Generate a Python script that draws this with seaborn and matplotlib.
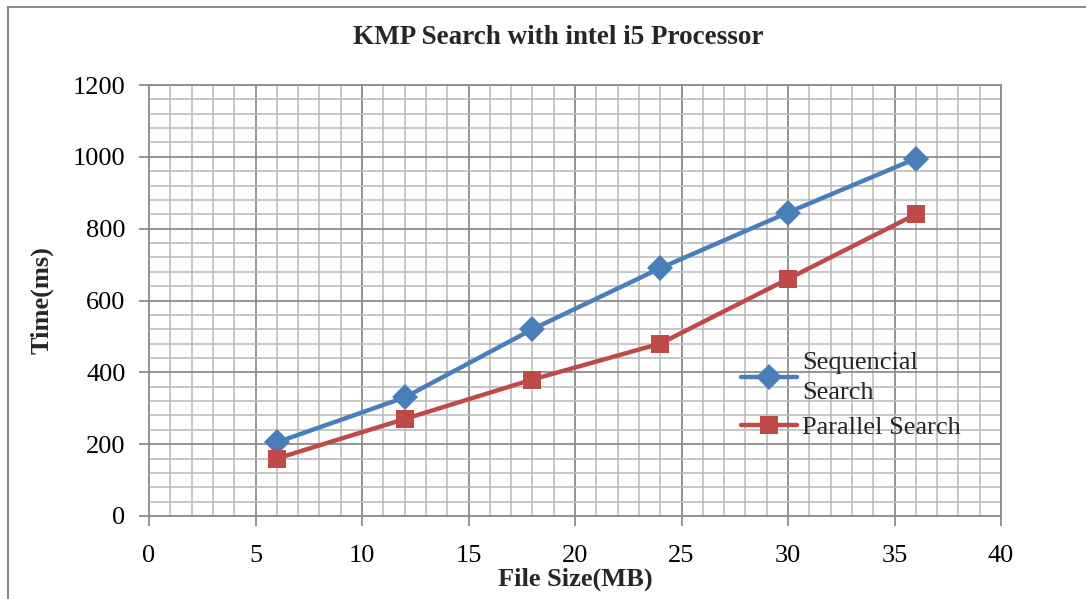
import matplotlib
matplotlib.use("Agg")
import matplotlib.pyplot as plt
import seaborn as sns
import pandas as pd
from matplotlib.ticker import MultipleLocator
from matplotlib.patches import Rectangle

file_size = [6, 12, 18, 24, 30, 36]
sequential = [205, 330, 520, 690, 845, 995]
parallel = [160, 270, 380, 480, 660, 840]
series_names = ["Sequencial\nSearch", "Parallel Search"]
title = "KMP Search with intel i5 Processor"
xlabel = "File Size(MB)"
ylabel = "Time(ms)"

df = pd.DataFrame({
    "x": file_size * 2,
    "y": sequential + parallel,
    "series": [series_names[0]] * len(file_size) + [series_names[1]] * len(file_size),
})

sns.set_style("white")
plt.rcParams["font.family"] = ["Liberation Serif", "DejaVu Serif"]

fig = plt.figure(figsize=(10.86, 5.99), dpi=100)
ax = fig.add_axes([149/1086, 1-516/599, (1001-149)/1086, (516-85)/599])

sns.lineplot(data=df, x="x", y="y", hue="series", style="series",
             markers={series_names[0]: "D", series_names[1]: "s"}, dashes=False,
             palette={series_names[0]: "#4A7EBB", series_names[1]: "#BE4B48"},
             linewidth=3.2, markersize=13, markeredgewidth=0, ax=ax, zorder=5)

ax.set_xlim(0, 40)
ax.set_ylim(0, 1200)
ax.xaxis.set_major_locator(MultipleLocator(5))
ax.xaxis.set_minor_locator(MultipleLocator(1))
ax.yaxis.set_major_locator(MultipleLocator(200))
ax.yaxis.set_minor_locator(MultipleLocator(40))
ax.grid(True, which="major", color="#8c8c8c", linewidth=1.3)
ax.grid(True, which="minor", color="#bdbdbd", linewidth=1.2)
ax.set_axisbelow(True)
for s in ax.spines.values():
    s.set_color("#8c8c8c")
    s.set_linewidth(1.3)
ax.tick_params(axis="both", which="major", direction="out", length=7, width=1.3,
               color="#8c8c8c", labelsize=19, labelcolor="black")
ax.tick_params(axis="both", which="minor", length=0)
ax.tick_params(axis="x", pad=14, bottom=True)
ax.tick_params(axis="y", pad=10, left=True)

ax.set_xlabel(xlabel, fontsize=19, fontweight="bold", labelpad=0)
ax.set_ylabel(ylabel, fontsize=19, fontweight="bold", labelpad=14)
ax.xaxis.set_label_coords(0.5, -0.148)
ax.xaxis.label.set_va("center")

fig.text(558/1086, 1-38/599, title, fontsize=19.5, fontweight="bold", ha="center", va="center")

leg = ax.legend(loc="upper left", bbox_to_anchor=(0.683, 0.405), frameon=False,
                fontsize=19, handlelength=2.1, handletextpad=0.2, labelspacing=0.45,
                borderaxespad=0, title=None)
for t in leg.get_texts():
    t.set_linespacing(1.45)

fig.patches.append(Rectangle((8/1086, -0.1), 1.2, 1 - 7/599 + 0.1, transform=fig.transFigure,
                             fill=False, edgecolor="#8c8c8c", linewidth=1.5))

fig.savefig("out.png", dpi=100)
